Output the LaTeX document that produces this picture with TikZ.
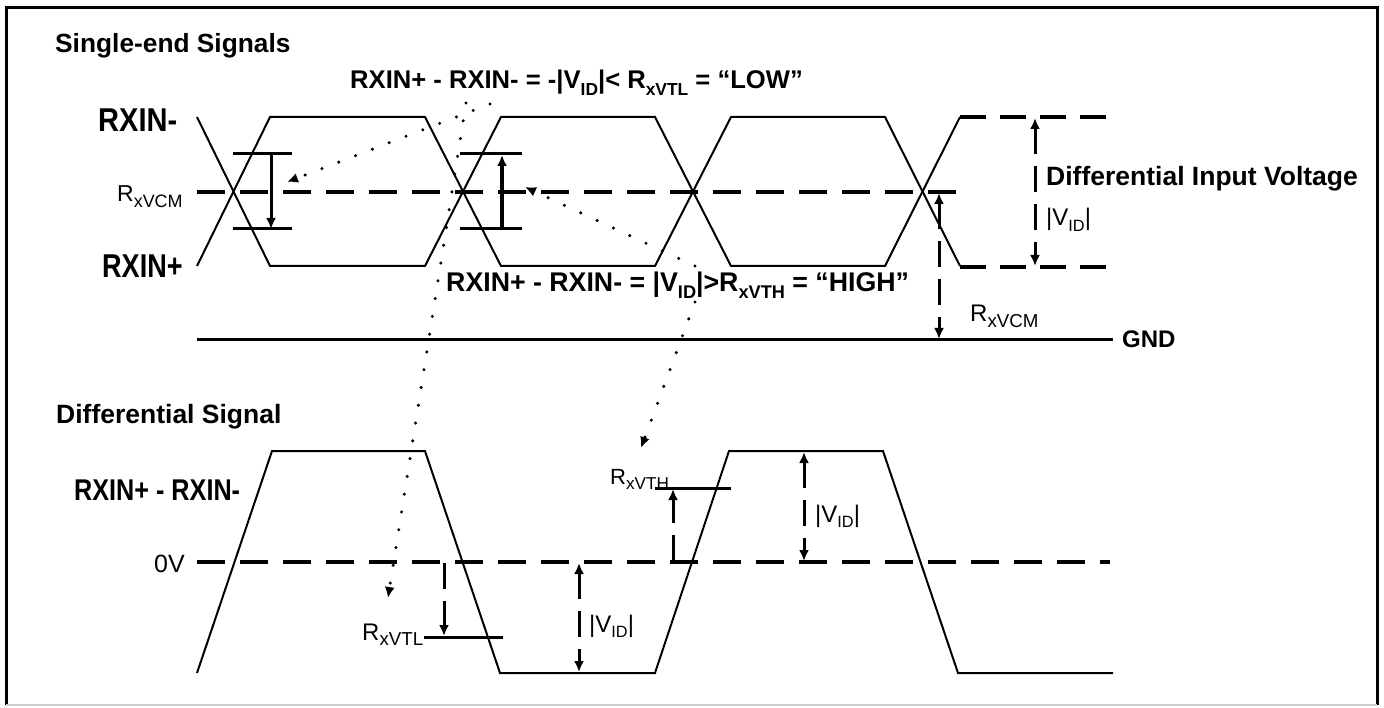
\documentclass[tikz,border=0pt]{standalone}
\usepackage{fontspec}
\usepackage{graphicx}
\setmainfont{Liberation Sans}
\usetikzlibrary{arrows.meta}
\newcommand{\dn}[1]{\raisebox{-0.45ex}{\scalebox{0.68}{#1}}}
\newcommand{\dnb}[1]{\raisebox{-0.45ex}{\scalebox{0.78}{#1}}}
\newcommand{\fs}[1]{\fontsize{#1}{#1}\selectfont}
\begin{document}
\begin{tikzpicture}[x=1pt,y=-1pt,
  txt/.style={inner sep=0pt, anchor=base west},
  wave/.style={line width=2pt, line join=miter},
  wavedash/.style={line width=3.5pt, dash pattern=on 26pt off 14pt},
  mid/.style={line width=4pt, dash pattern=on 28pt off 15pt},
  thr/.style={line width=3pt},
  tip/.style={-{Latex[length=11pt,width=10pt]}},
  dim/.style={line width=3pt, dash pattern=on 26pt off 12pt},
  dimarr/.style={dim, {Latex[length=11pt,width=10pt]}-{Latex[length=11pt,width=10pt]}},
  dimone/.style={dim, -{Latex[length=11pt,width=10pt]}},
  dots/.style={line width=3.4pt, line cap=round, dash pattern=on 0pt off 18pt, -{Latex[length=11pt,width=10pt]}}
]
\useasboundingbox (0,0) rectangle (1384,708);
% frame
\draw[line width=3pt] (6,705) -- (6,8) -- (1377,8) -- (1377,705);
\draw[line width=2pt, black!20] (6,705) -- (1377,705);

% ---------- single-ended signals ----------
\node[txt] (tse) at (55,53) {\fs{26.3}\bfseries Single-end Signals};
\node[txt] (low) at (350,89) {\fs{25.6}\bfseries RXIN+ - RXIN- = -|V\dn{ID}|< R\dn{xVTL} = “LOW”};
\node[txt] (rxm) at (98,132) {\fs{33}\bfseries\scalebox{0.88}[1]{RXIN-}};
\node[txt] (rxp) at (102,278) {\fs{33}\bfseries\scalebox{0.82}[1]{RXIN+}};
\node[txt] (vcml) at (117,202) {\fs{23}R\dnb{xVCM}};
\node[txt] (high) at (446,292) {\fs{27}\bfseries\scalebox{0.99}[1]{RXIN+ - RXIN- = |V\dn{ID}|>R\dn{xVTH} = “HIGH”}};
\node[txt] (div) at (1046,186) {\fs{26.5}\bfseries Differential Input Voltage};
\node[txt] (vid1) at (1046,226) {\fs{24}|V\dn{ID}|};
\node[txt] (vcmr) at (970,322) {\fs{24}R\dnb{xVCM}};
\node[txt] (gnd) at (1122,348) {\fs{24}\bfseries GND};

% waveforms
\draw[wave] (197,117) -- (270,266) -- (425,266) -- (501,117) -- (655,117) -- (731,266) -- (885,266) -- (960,117);
\draw[wave] (197,266) -- (270,117) -- (425,117) -- (501,266) -- (655,266) -- (731,117) -- (885,117) -- (960,266);
\draw[wavedash] (960,117) -- (1113,117);
\draw[wavedash] (960,267) -- (1113,267);
\draw[mid] (197,192) -- (961,192);
\draw[line width=3pt] (197,340) coordinate (g0) -- (1113,340) coordinate (g1);

% thresholds in eyes
\draw[thr] (233,154) -- (292,154);
\draw[thr] (233,229) -- (292,229);
\draw[thr, tip] (271,154) -- (271,229);
\draw[thr] (460,154) -- (522,154);
\draw[thr] (460,229) -- (522,229);
\draw[line width=3.5pt, tip] (502,229) -- (502,155);

% dimension arrows
\draw[dimarr] (1035,118) -- (1035,266);
\draw[dimarr] (939,193) -- (939,339);

% ---------- differential signal ----------
\node[txt] (tds) at (56,424) {\fs{26.5}\bfseries Differential Signal};
\node[txt] (rxd) at (74,500) {\fs{30}\bfseries\scalebox{0.84}[1]{RXIN+ - RXIN-}};
\node[txt] (zv) at (154,572) {\fs{25}0V};
\node[txt] (vtl) at (362,640) {\fs{24}R\dnb{xVTL}};
\node[txt] (vid2) at (589,632) {\fs{24}|V\dn{ID}|};
\node[txt] (vth) at (610,484) {\fs{22}R\dnb{xVTH}};
\node[txt] (vid3) at (815,522) {\fs{24}|V\dn{ID}|};

\draw[mid] (197,562) -- (1110,562);
\draw[wave] (197,673) -- (272,451) -- (425,451) -- (500,673) -- (655,673) -- (729,451) -- (883,451) -- (958,673) -- (1113,673);

\draw[thr] (424,637) -- (503,637);
\draw[dimone] (444,563) -- (444,636);
\draw[dimarr] (579,563) -- (579,672);
\draw[thr] (655,488) -- (731,488);
\draw[dimone] (673,561) -- (673,489);
\draw[dimarr] (804,452) -- (804,561);

% dotted pointers
\coordinate (d1s) at (490,104);
\coordinate (d1e) at (287,182);
\coordinate (d2s) at (466,103);
\coordinate (d2e) at (388,598);
\coordinate (d3s) at (695,266);
\coordinate (d3e) at (525,187);
\coordinate (d4s) at (695,302);
\coordinate (d4e) at (641,448);
\draw[dots] (d1s) -- (d1e);
\draw[dots] (d2s) -- (d2e);
\draw[dots] (d3s) -- (d3e);
\draw[dots] (d4s) -- (d4e);
\end{tikzpicture}
\end{document}
